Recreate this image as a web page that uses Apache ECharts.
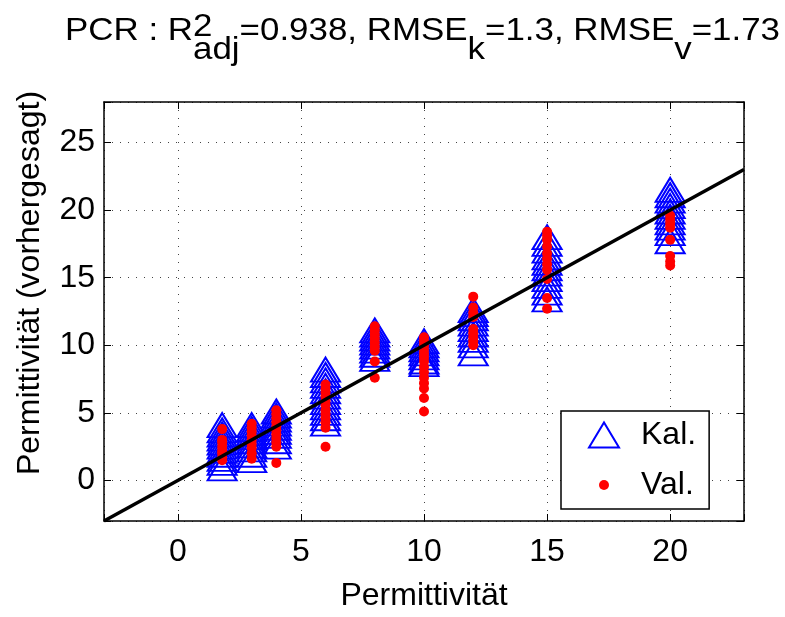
<!DOCTYPE html>
<html><head><meta charset="utf-8">
<script src="https://cdn.jsdelivr.net/npm/echarts@6/dist/echarts.min.js"></script>
<style>html,body{margin:0;padding:0;background:#fff}#c{width:785px;height:617px}</style>
</head><body><div id="c"></div>
<script>
// ---- data ----
const groupX = [1.8, 3, 4, 6, 8, 10, 12, 15, 20];
const kalY = [
  [4.1, 3.7, 3.4, 3.1, 2.8, 2.5, 2.2, 1.9, 1.6, 1.3, 0.9],
  [4.1, 3.8, 3.5, 3.2, 2.9, 2.6, 2.3, 1.9, 1.5],
  [5.1, 4.8, 4.5, 4.2, 3.9, 3.6, 3.3, 2.9, 2.5],
  [8.2, 7.8, 7.4, 7.0, 6.6, 6.2, 5.8, 5.4, 5.0, 4.6, 4.2],
  [11.1, 10.8, 10.5, 10.2, 9.9, 9.6, 9.3, 9.0],
  [10.3, 10.0, 9.7, 9.4, 9.1, 8.8, 8.6],
  [12.6, 12.3, 12.0, 11.6, 11.2, 10.8, 10.4, 10.0, 9.4],
  [18.0, 17.5, 17.0, 16.5, 16.1, 15.7, 15.3, 14.9, 14.4, 13.9, 13.4],
  [21.5, 21.1, 20.7, 20.3, 19.9, 19.5, 19.1, 18.7, 18.3, 17.7]
];
const valY = [
  [3.8, 3.0, 2.8, 2.5, 2.2, 2.0, 1.7, 1.5],
  [4.2, 3.9, 3.6, 3.3, 3.0, 2.7, 2.4, 2.0, 1.6],
  [5.2, 4.9, 4.6, 4.3, 4.0, 3.7, 3.4, 3.1, 2.8, 2.5, 1.3],
  [7.1, 6.8, 6.5, 6.2, 5.9, 5.6, 5.2, 4.9, 4.6, 4.3, 3.9, 2.5],
  [11.4, 11.1, 10.8, 10.5, 10.2, 9.9, 9.6, 8.8, 7.6],
  [10.6, 10.3, 10.0, 9.7, 9.4, 9.1, 8.8, 8.4, 8.0, 7.6, 7.2, 6.8, 6.1, 5.1],
  [13.6, 12.8, 12.4, 12.1, 11.2, 10.9, 10.6, 10.3, 10.0],
  [18.4, 18.1, 17.8, 17.3, 16.8, 16.4, 16.0, 15.6, 14.9, 13.5, 12.7],
  [19.6, 19.3, 19.0, 18.7, 17.8, 16.6, 16.2, 15.9]
];
const refLineX = [-3, 23];
const xTickLabels = [0, 5, 10, 15, 20];
const yTickLabels = [0, 5, 10, 15, 20, 25];
const seriesNames = ['Kal.', 'Val.'];
const xName = 'Permittivität';
const yName = 'Permittivität (vorhergesagt)';
const titleSegs = [['PCR : R', 'n'], ['2', 'supsub', 'adj'], ['=0.938, RMSE', 'n'], ['k', 'sub'], ['=1.3, RMSE', 'n'], ['v', 'sub'], ['=1.73', 'n']];

// ---- build ----
const kalData = groupX.flatMap((x, i) => kalY[i].map(y => [x, y]));
const valData = groupX.flatMap((x, i) => valY[i].map(y => [x, y]));
const lineData = refLineX.map(v => [v, v]);

const FONT = '"Liberation Sans", Arial, sans-serif';
const TF = 32;
const ctx = document.createElement('canvas').getContext('2d');
ctx.font = TF + 'px ' + FONT;
const mw = s => ctx.measureText(s).width;
const yMain = 31, ySup = 27, ySub = 50;
const tEl = (t, x, y) => ({type: 'text', x: x, y: y, style: {text: t, fontSize: TF, fontFamily: FONT, fill: '#000', align: 'left', verticalAlign: 'middle'}});
let cx = 0; const titleEls = [];
for (const s of titleSegs) {
  if (s[1] === 'n') { titleEls.push(tEl(s[0], cx, yMain)); cx += mw(s[0]); }
  else if (s[1] === 'supsub') { titleEls.push(tEl(s[0], cx, ySup)); titleEls.push(tEl(s[2], cx, ySub)); cx += Math.max(mw(s[0]), mw(s[2])); }
  else { titleEls.push(tEl(s[0], cx, ySub)); cx += mw(s[0]); }
}
const titleScale = 715 / cx;

const axisCommon = {
  type: 'value',
  axisLine: {show: true, onZero: false, lineStyle: {color: '#000', width: 1.5}},
  axisTick: {show: true, inside: true, length: 7, lineStyle: {color: '#000', width: 1}},
};
const lab = (ticks, extra) => Object.assign({
  color: '#000', fontSize: TF, fontFamily: FONT,
  formatter: v => ticks.includes(v) ? String(v) : ''
}, extra);

const chart = echarts.init(document.getElementById('c'), null, {renderer: 'canvas'});
chart.setOption({
  animation: false,
  backgroundColor: '#fff',
  grid: {left: 104, right: 41, top: 102, bottom: 94, containLabel: false},
  xAxis: [
    Object.assign({}, axisCommon, {
      position: 'bottom', min: -3, max: 23, splitNumber: 5,
      axisLabel: lab(xTickLabels, {margin: 15}),
      splitLine: {show: true, lineStyle: {color: '#444', width: 1, type: [1, 7]}},
      name: xName, nameLocation: 'middle', nameGap: 59,
      nameTextStyle: {color: '#000', fontSize: TF, fontFamily: FONT}
    }),
    Object.assign({}, axisCommon, {
      position: 'top', min: -3, max: 23, splitNumber: 5,
      axisLabel: {show: false}, splitLine: {show: false}
    })
  ],
  yAxis: [
    Object.assign({}, axisCommon, {
      position: 'left', min: -3, max: 28, splitNumber: 6,
      axisLabel: lab(yTickLabels, {margin: 9}),
      splitLine: {show: true, lineStyle: {color: '#444', width: 1, type: [1, 7]}}
    }),
    Object.assign({}, axisCommon, {
      position: 'right', min: -3, max: 28, splitNumber: 6,
      axisLabel: {show: false}, splitLine: {show: false}
    })
  ],
  legend: {
    left: 561, top: 411, orient: 'vertical',
    itemWidth: 50, itemHeight: 25, itemGap: 14,
    padding: [6, 13, 6, 24],
    borderColor: '#000', borderWidth: 1.5, borderRadius: 0, backgroundColor: '#fff',
    selectedMode: false,
    textStyle: {fontSize: TF, fontFamily: FONT, color: '#000', lineHeight: 36},
    data: [
      {name: seriesNames[0], icon: 'path://M0,0M50,25M3,25L18,0L33,25Z'},
      {name: seriesNames[1], icon: 'path://M0,0M50,25M13,12.5A5,5,0,1,1,23,12.5A5,5,0,1,1,13,12.5Z'}
    ]
  },
  graphic: [
    {type: 'group', x: 65, y: 0, scaleX: titleScale, children: titleEls},
    {type: 'text', x: 30, y: 283, rotation: Math.PI / 2,
     style: {text: yName, fontSize: TF, fontFamily: FONT, fill: '#000', align: 'center', verticalAlign: 'middle'}}
  ],
  series: [
    {name: seriesNames[0], type: 'scatter', data: kalData, symbol: 'triangle', symbolSize: [29, 24],
     itemStyle: {color: 'rgba(0,0,0,0)', borderColor: '#0000ff', borderWidth: 2, opacity: 1}, z: 2, silent: true},
    {name: seriesNames[1], type: 'scatter', data: valData, symbol: 'circle', symbolSize: 10,
     itemStyle: {color: '#ff0000', opacity: 1}, z: 3, silent: true},
    {name: 'fit', type: 'line', data: lineData, symbol: 'none', lineStyle: {color: '#000', width: 3.5}, z: 5, silent: true}
  ]
});
</script></body></html>
